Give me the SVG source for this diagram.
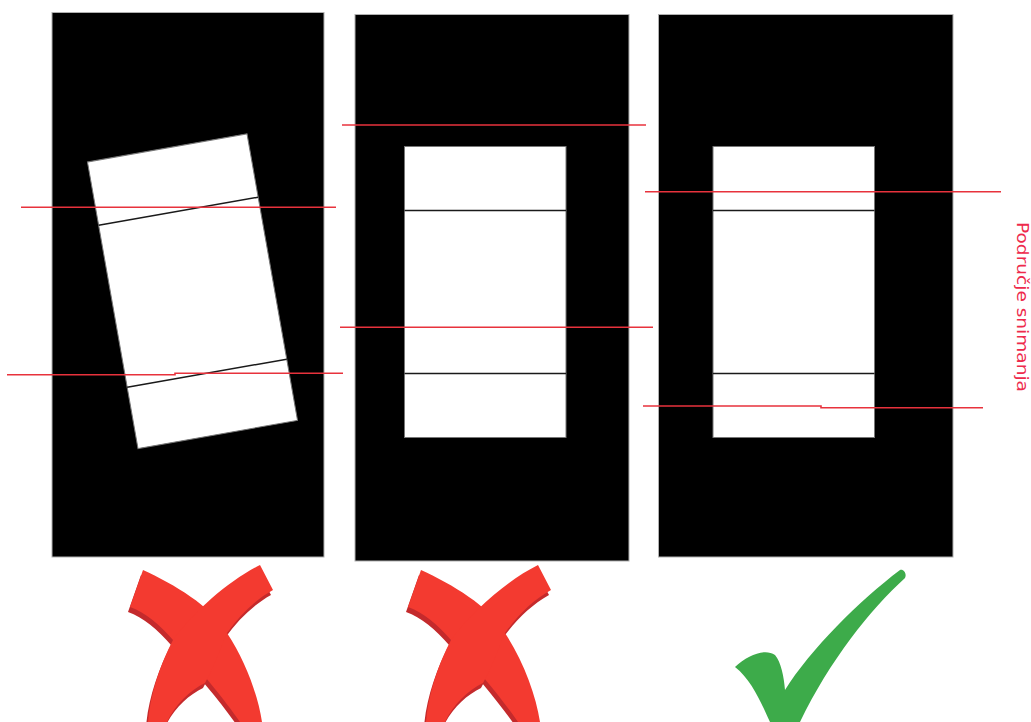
<svg xmlns="http://www.w3.org/2000/svg" width="1031" height="722" viewBox="0 0 1031 722">
<style>
.panel{fill:#000;stroke:#b0b0b0;stroke-width:1}
.doc{fill:#fff;stroke:#777;stroke-width:1}
.sep{stroke:#1a1a1a;stroke-width:1.5;fill:none}
.scan{stroke:#e8323c;stroke-width:1.6;fill:none}
.xm{fill:#f33a30}
.xs{fill:#c42a2c}
.ok{fill:#3dab4a}
.lbl{font-family:"DejaVu Sans","Liberation Sans",sans-serif;font-size:15px;fill:#ee2a4c}
</style>
<rect width="1031" height="722" fill="#fff"/>
<g id="panel1">
  <rect class="panel" x="52" y="12.5" width="272" height="544.5"/>
  <g transform="rotate(-10 192.5 291.2)">
    <rect class="doc" x="111.5" y="145.7" width="162" height="291"/>
    <line class="sep" x1="111.5" y1="210" x2="273.5" y2="210"/>
    <line class="sep" x1="111.5" y1="374.5" x2="273.5" y2="374.5"/>
  </g>
  <line class="scan" x1="21" y1="207.3" x2="336" y2="207.3"/>
  <polyline class="scan" points="7,374.7 175,374.7 175,373.3 343,373.3"/>
  <g id="mark1">
    <path class="xs" transform="translate(-2,5)" d="M143,570 C175,585 210,605 227,633 C245,660 258,695 262,722 L240,722 C225,700 200,670 173,640 C160,625 145,612 130,607 Z"/>
    <path class="xs" transform="translate(-2,5)" d="M260,565 C230,580 195,610 173,640 C160,665 150,695 148,722 L167,722 C175,705 190,690 205,683 C215,665 222,645 227,633 C240,615 255,600 273,590 Z"/>
    <path class="xm" d="M143,570 C175,585 210,605 227,633 C245,660 258,695 262,722 L240,722 C225,700 200,670 173,640 C160,625 145,612 130,607 Z"/>
    <path class="xm" d="M260,565 C230,580 195,610 173,640 C160,665 150,695 148,722 L167,722 C175,705 190,690 205,683 C215,665 222,645 227,633 C240,615 255,600 273,590 Z"/>
  </g>
</g>
<g id="panel2">
  <rect class="panel" x="355" y="14.5" width="274" height="546.5"/>
  <rect class="doc" x="404.5" y="146.5" width="161.5" height="291"/>
  <line class="sep" x1="404.5" y1="210.5" x2="566" y2="210.5"/>
  <line class="sep" x1="404.5" y1="373.5" x2="566" y2="373.5"/>
  <line class="scan" x1="342" y1="125" x2="646" y2="125"/>
  <line class="scan" x1="340" y1="327.3" x2="653" y2="327.3"/>
  <g id="mark2" transform="translate(278,0)">
    <path class="xs" transform="translate(-2,5)" d="M143,570 C175,585 210,605 227,633 C245,660 258,695 262,722 L240,722 C225,700 200,670 173,640 C160,625 145,612 130,607 Z"/>
    <path class="xs" transform="translate(-2,5)" d="M260,565 C230,580 195,610 173,640 C160,665 150,695 148,722 L167,722 C175,705 190,690 205,683 C215,665 222,645 227,633 C240,615 255,600 273,590 Z"/>
    <path class="xm" d="M143,570 C175,585 210,605 227,633 C245,660 258,695 262,722 L240,722 C225,700 200,670 173,640 C160,625 145,612 130,607 Z"/>
    <path class="xm" d="M260,565 C230,580 195,610 173,640 C160,665 150,695 148,722 L167,722 C175,705 190,690 205,683 C215,665 222,645 227,633 C240,615 255,600 273,590 Z"/>
  </g>
</g>
<g id="panel3">
  <rect class="panel" x="658.5" y="14.5" width="294.5" height="542.5"/>
  <rect class="doc" x="713" y="146.5" width="161.5" height="291"/>
  <line class="sep" x1="713" y1="210.5" x2="874.5" y2="210.5"/>
  <line class="sep" x1="713" y1="373.5" x2="874.5" y2="373.5"/>
  <line class="scan" x1="645" y1="191.7" x2="1001" y2="191.7"/>
  <polyline class="scan" points="643,406 821,406 821,407.7 983,407.7"/>
  <path id="mark3" class="ok" d="M735,667 C748,655 765,648 775,655 C781,662 784,677 785,690 C810,650 860,600 900,570 C904,569 907,574 905,578 C870,610 830,660 800,722 L770,722 C762,705 752,680 735,667 Z"/>
</g>
<g id="label">
  <text class="lbl" transform="translate(1017,222) rotate(90)" textLength="170" lengthAdjust="spacingAndGlyphs">Područje snimanja</text>
</g>
<g id="connectors"></g>
</svg>
